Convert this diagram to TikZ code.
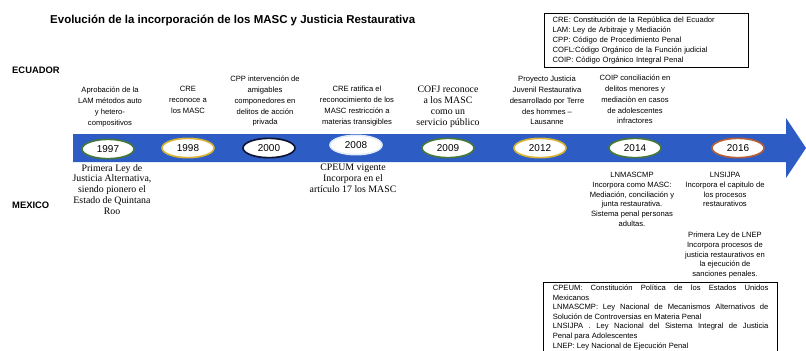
\documentclass[tikz,border=0pt]{standalone}
\usepackage{fontspec}
\setmainfont{Liberation Serif}
\setsansfont{Liberation Sans}
\usetikzlibrary{shapes.geometric}
\definecolor{bandblue}{RGB}{45,92,196}
\definecolor{ringgreen}{RGB}{70,120,60}
\definecolor{ringgold}{RGB}{215,180,50}
\definecolor{ringnavy}{RGB}{15,20,50}
\definecolor{ringpale}{RGB}{225,235,250}
\definecolor{ringbrown}{RGB}{180,95,55}
\tikzset{
  yearnode/.style={ellipse, draw=#1, line width=1.4pt, fill=white, minimum width=1.56cm, minimum height=0.58cm, inner sep=0pt, font=\sffamily\fontsize{8.5}{10}\selectfont},
  ecutext/.style={align=center, inner sep=0pt, anchor=north, font=\sffamily\fontsize{6.5}{9.2}\selectfont},
  mextext/.style={align=center, inner sep=0pt, anchor=north, font=\sffamily\fontsize{6.5}{8.3}\selectfont},
  sertext/.style={align=center, inner sep=0pt, anchor=north, font=\rmfamily\fontsize{8.4}{9.2}\selectfont},
  country/.style={anchor=west, inner sep=0pt, font=\sffamily\bfseries\fontsize{8}{10}\selectfont},
  legend/.style={draw, line width=0.8pt, anchor=north west, inner ysep=3pt, font=\sffamily\fontsize{6.5}{8.5}\selectfont, execute at begin node={\setlength{\parindent}{0pt}}}
}
\begin{document}
\begin{tikzpicture}[x=0.03cm, y=-0.03cm]
\useasboundingbox (0,0) rectangle (806,350);
\fill[bandblue] (73,134) -- (786,134) -- (786,118) -- (806,148) -- (786,178) -- (786,162) -- (73,162) -- cycle;
\node[anchor=west, inner sep=0pt, font=\sffamily\bfseries\fontsize{9.8}{12}\selectfont] (title) at (50,20) {Evolución de la incorporación de los MASC y Justicia Restaurativa};
\node[country] (ecu) at (12,70) {ECUADOR};
\node[country] (mex) at (12,205) {MEXICO};
\node[legend, text width=160pt, align=left, inner xsep=7pt] (eculeg) at (544,13) {CRE: Constitución de la República del Ecuador\\LAM: Ley de Arbitraje y Mediación\\CPP: Código de Procedimiento Penal\\COFL:Código Orgánico de la Función judicial\\COIP: Código Orgánico Integral Penal};
\node[yearnode=ringgreen] (y1997) at (108,149) {1997};
\node[yearnode=ringgold] (y1998) at (188,148) {1998};
\node[yearnode=ringnavy] (y2000) at (269,148) {2000};
\node[yearnode=ringpale] (y2008) at (356,145) {2008};
\node[yearnode=ringgreen] (y2009) at (448,148) {2009};
\node[yearnode=ringgold] (y2012) at (540,148) {2012};
\node[yearnode=ringgreen] (y2014) at (635,148) {2014};
\node[yearnode=ringbrown] (y2016) at (738,148) {2016};
\node[ecutext] (e1997) at (110,87) {Aprobación de la\\LAM métodos auto\\y hetero-\\compositivos};
\node[ecutext] (e1998) at (188,86) {CRE\\reconoce a\\los MASC};
\node[ecutext] (e2000) at (265,76) {CPP intervención de\\amigables\\componedores en\\delitos de acción\\privada};
\node[ecutext] (e2008) at (357,86) {CRE ratifica el\\reconocimiento de los\\MASC restricción a\\materias transigibles};
\node[sertext] (e2009) at (448,86) {COFJ reconoce\\a los MASC\\como un\\servicio público};
\node[ecutext] (e2012) at (547,76) {Proyecto Justicia\\Juvenil Restaurativa\\desarrollado por Terre\\des hommes –\\Lausanne};
\node[ecutext] (e2014) at (635,75) {COIP conciliación en\\delitos menores y\\mediaciòn en casos\\de adolescentes\\infractores};
\node[sertext] (m1997) at (112,164) {Primera Ley de\\Justicia Alternativa,\\siendo pionero el\\Estado de Quintana\\Roo};
\node[sertext] (m2008) at (353,164) {CPEUM vigente\\Incorpora en el\\artículo 17 los MASC};
\node[mextext] (m2014) at (632,172) {LNMASCMP\\Incorpora como MASC:\\Mediación, conciliación y\\junta restaurativa.\\Sistema penal personas\\adultas.};
\node[mextext] (m2016) at (725,172) {LNSIJPA\\Incorpora el capitulo de\\los procesos\\restaurativos};
\node[mextext] (m2016b) at (725,232) {Primera Ley de LNEP\\Incorpora procesos de\\justicia restaurativos en\\la ejecución de\\sanciones penales.};
\node[legend, text width=184pt, align=justify, inner xsep=8pt, inner ysep=2pt, font=\sffamily\fontsize{6.5}{8.2}\selectfont] (mexleg) at (543,282) {CPEUM: Constitución Política de los Estados Unidos\linebreak Mexicanos\par LNMASCMP: Ley Nacional de Mecanismos Alternativos de\linebreak Solución de Controversias en Materia Penal\par LNSIJPA . Ley Nacional del Sistema Integral de Justicia\linebreak Penal para Adolescentes\par LNEP: Ley Nacional de Ejecución Penal};
\end{tikzpicture}
\end{document}
